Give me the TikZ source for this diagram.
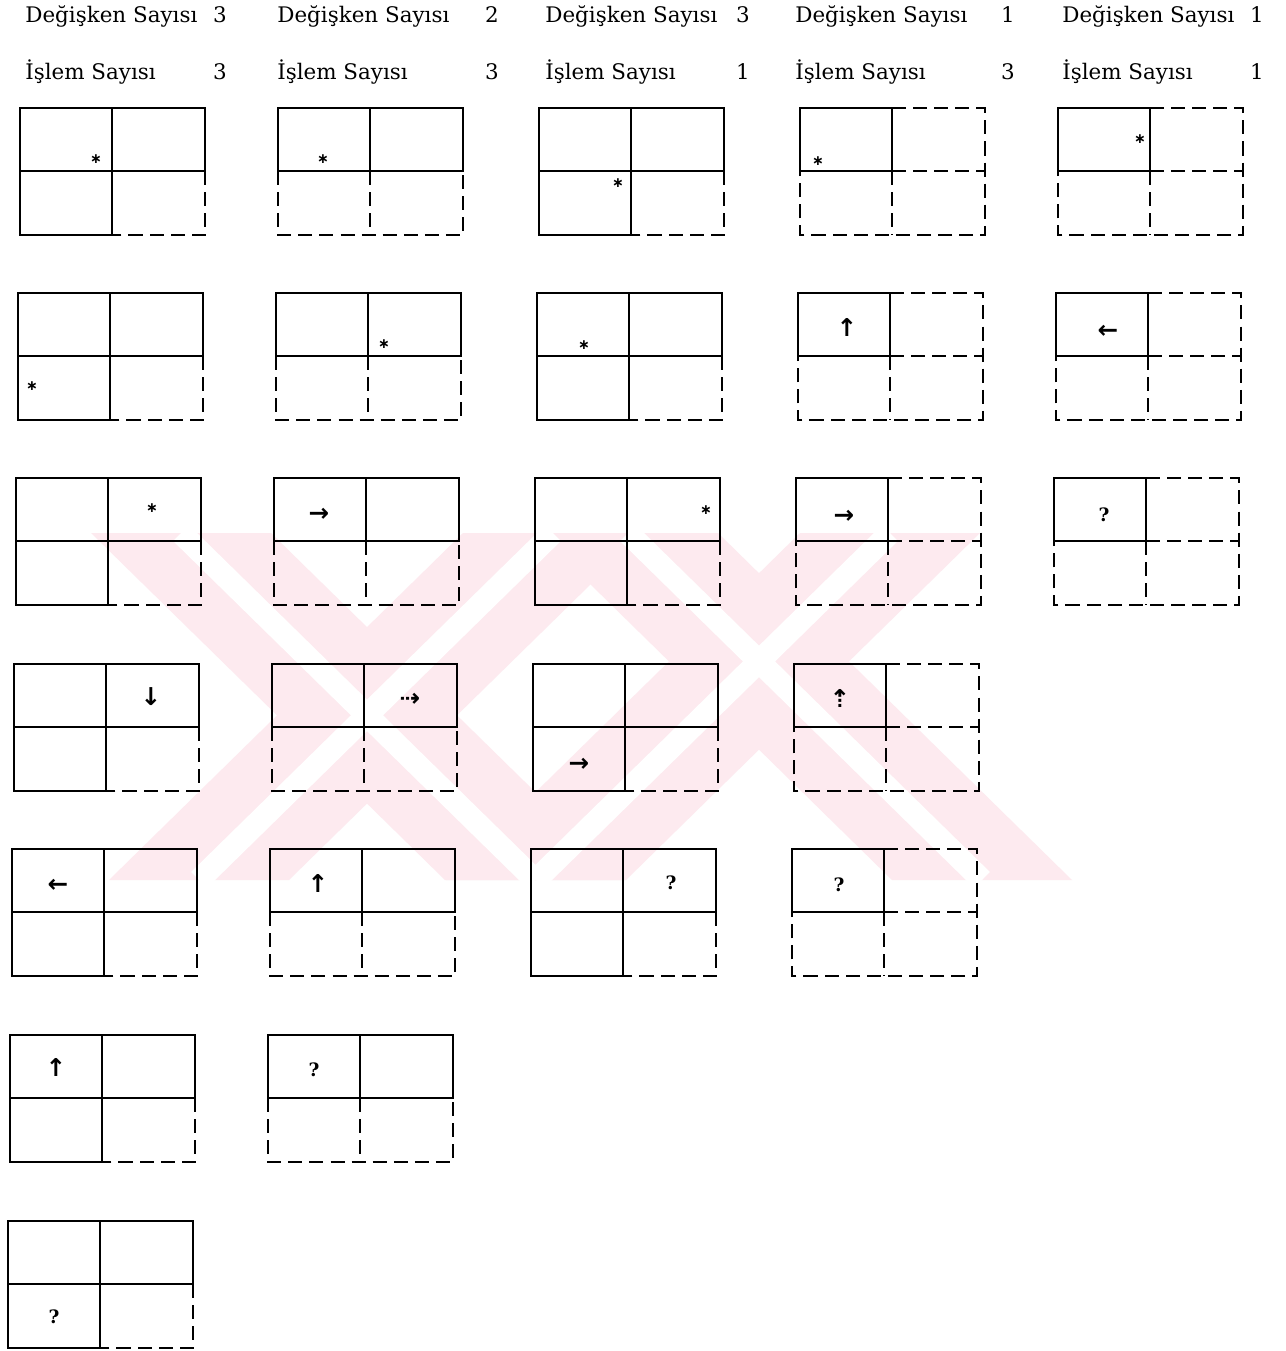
\documentclass[tikz,border=0pt]{standalone}
\usepackage{fontspec}
\setmainfont{DejaVu Serif}
\newfontfamily\symfont{DejaVu Sans}
\usepackage{xcolor}
\definecolor{wmpink}{RGB}{253,234,239}

\begin{document}
\begin{tikzpicture}[
    x=0.02cm, y=-0.02cm,
    solidline/.style={line width=1.6pt},
    dashline/.style={line width=1.6pt, dash pattern=on 8pt off 4pt},
    hdr/.style={font=\fontsize{12.2}{14}\selectfont, anchor=base west, inner sep=0pt},
    num/.style={font=\fontsize{12.2}{14}\selectfont, anchor=base, inner sep=0pt},
    sym/.style={font=\symfont\bfseries\fontsize{14}{16}\selectfont, inner sep=0pt},
    star/.style={font=\symfont\bfseries\fontsize{8}{9}\selectfont, inner sep=0pt},
    qmark/.style={font=\bfseries\fontsize{10.5}{12}\selectfont, inner sep=0pt},
    band/.style={fill=wmpink},
    stripe/.style={white, line width=0.45cm},
    % three cells solid, the fourth dashed
    gridfull/.pic={
        \draw[solidline] (185,63) -- (185,0) -- (0,0) -- (0,127) -- (92,127);
        \draw[solidline] (0,63) -- (185,63) (92,0) -- (92,127);
        \draw[dashline] (185,63) -- (185,127) -- (92,127);
    },
    % top row solid, bottom row dashed
    gridhalf/.pic={
        \draw[solidline] (0,0) rectangle (185,63) (92,0) -- (92,63);
        \draw[dashline] (0,63) -- (0,127) -- (185,127) -- (185,63) (92,63) -- (92,127);
    },
    % one cell solid
    gridone/.pic={
        \draw[solidline] (0,0) rectangle (92,63);
        \draw[dashline] (92,0) -- (185,0) -- (185,127) -- (0,127) -- (0,63)
                        (92,63) -- (185,63) (92,63) -- (92,127);
    },
]

\fill[white] (0,0) rectangle (1285,1351);
\useasboundingbox (0,0) rectangle (1285,1351);

% Watermark
\begin{scope}
    \clip (0,533) rectangle (1285,880);
    \fill[band] (91,533) -- (271,533) -- (625,880) -- (445,880) -- cycle;
    \fill[band] (463,533) -- (643,533) -- (289,880) -- (109,880) -- cycle;
    \fill[band] (538,533) -- (718,533) -- (1072,880) -- (892,880) -- cycle;
    \fill[band] (800,533) -- (980,533) -- (626,880) -- (446,880) -- cycle;
    \draw[stripe] (181,533) -- (535,880) (553,533) -- (199,880)
                  (628,533) -- (982,880) (890,533) -- (536,880);
\end{scope}

% Headers
\foreach \c/\x/\nx/\d/\i in {A/25/220/3/3, B/277/492/2/3, C/545/743/3/1,
                             D/795/1008/1/3, E/1062/1257/1/1} {
    \node[hdr] (deg\c) at (\x,23) {Değişken Sayısı};
    \node[num] (degn\c) at (\nx,23) {\d};
    \node[hdr] (isl\c) at (\x,80) {İşlem Sayısı};
    \node[num] (isln\c) at (\nx,80) {\i};
}

% Grids
\foreach \y [count=\r] in {108,293,478,664,849,1035,1221}
    \pic at ({22-2*\r},\y) {gridfull};
\foreach \y [count=\r] in {108,293,478,664,849,1035}
    \pic at ({280-2*\r},\y) {gridhalf};
\foreach \y [count=\r] in {108,293,478,664,849}
    \pic at ({541-2*\r},\y) {gridfull};
\foreach \y [count=\r] in {108,293,478,664,849}
    \pic at ({802-2*\r},\y) {gridone};
\foreach \y [count=\r] in {108,293,478}
    \pic at ({1060-2*\r},\y) {gridone};

% Cell marks, column A
\node[star] (a1) at (96,159) {∗};
\node[star] (a2) at (32,386) {∗};
\node[star] (a3) at (152,508) {∗};
\node[sym] (a4) at (151,697) {↓};
\node[sym] (a5) at (58,886) {←};
\node[sym] (a6) at (56,1067) {↑};
\node[qmark] (a7) at (54,1317) {?};

% column B
\node[star] (b1) at (323,159) {∗};
\node[star] (b2) at (384,344) {∗};
\node[sym] (b3) at (319,515) {→};
\node[sym] (b4) at (410,700) {⇢};
\node[sym] (b5) at (318,883) {↑};
\node[qmark] (b6) at (314,1070) {?};

% column C
\node[star] (c1) at (618,183) {∗};
\node[star] (c2) at (584,345) {∗};
\node[star] (c3) at (706,510) {∗};
\node[sym] (c4) at (579,765) {→};
\node[qmark] (c5) at (671,883) {?};

% column D
\node[star] (d1) at (818,161) {∗};
\node[sym] (d2) at (847,327) {↑};
\node[sym] (d3) at (844,517) {→};
\node[sym] (d4) at (840,698) {⇡};
\node[qmark] (d5) at (839,885) {?};

% column E
\node[star] (e1) at (1140,139) {∗};
\node[sym] (e2) at (1108,332) {←};
\node[qmark] (e3) at (1104,515) {?};

\end{tikzpicture}
\end{document}
